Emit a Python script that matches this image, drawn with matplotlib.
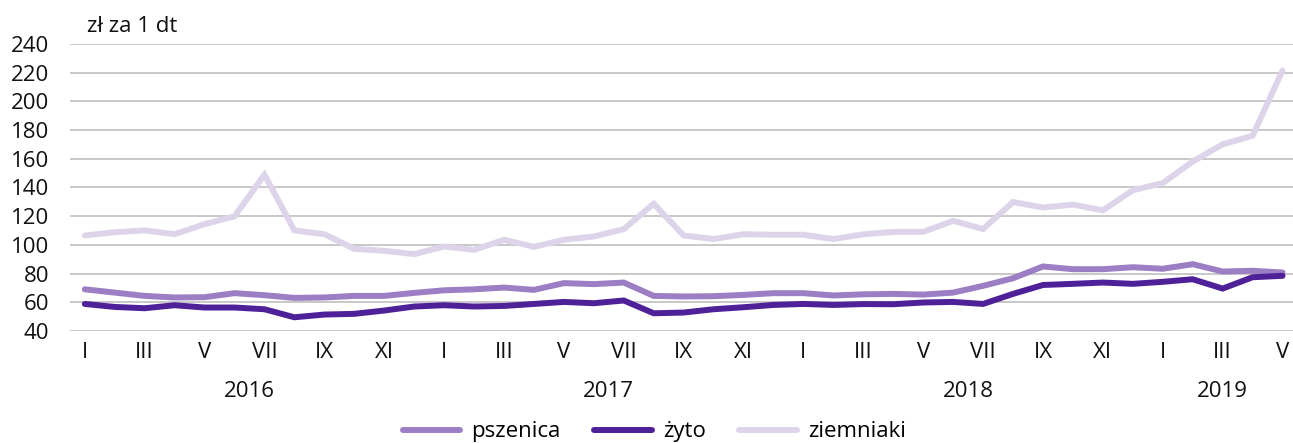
import matplotlib
matplotlib.use("Agg")
import matplotlib.pyplot as plt
import matplotlib.transforms as mtransforms

plt.rcParams['font.family'] = ['Open Sans', 'DejaVu Sans']

months = ["I", "II", "III", "IV", "V", "VI", "VII", "VIII", "IX", "X", "XI", "XII"] * 3 + ["I", "II", "III", "IV", "V"]
years = ["2016", "2017", "2018", "2019"]
year_centers = [5.5, 17.5, 29.5, 38]

pszenica = [69, 66.7, 64.4, 63.3, 63.5, 66.3, 64.9, 63, 63.3, 64.4, 64.4, 66.5,
            68.3, 69, 70.2, 68.6, 73.3, 72.6, 73.7, 64.4, 64, 64.2, 65.1, 66.3,
            66.3, 64.7, 65.5, 65.8, 65.3, 66.7, 71.4, 76.7, 84.9, 83, 83, 84.4,
            83.3, 86.5, 81.4, 81.9, 80.7]
zyto = [58.8, 56.7, 55.8, 57.9, 56.3, 56.3, 55.1, 49.5, 51.4, 51.9, 54.2, 57,
        57.9, 57, 57.4, 58.8, 60.2, 59.3, 61.2, 52.3, 52.8, 55.1, 56.5, 58.1,
        58.8, 58.1, 58.7, 58.6, 59.8, 60.2, 58.8, 65.8, 72, 72.8, 73.7, 72.8,
        74.2, 76, 69.5, 77.4, 78.4]
ziemniaki = [106.5, 108.8, 110, 107.4, 114.4, 119.8, 148.8, 110, 107.4, 97.2, 95.8, 93.5,
             98.8, 96.5, 103.5, 98.6, 103.5, 105.8, 110.9, 128.6, 106.5, 104, 107.4, 107,
             107, 104, 107.3, 109, 109, 116.7, 111, 129.8, 126, 128, 124, 138,
             143, 158, 170, 176, 221.4]

labels = ["pszenica", "żyto", "ziemniaki"]
colors = ["#9b7ec3", "#4f2199", "#ddd4ea"]

fig = plt.figure(figsize=(12.93, 4.43), dpi=100)
ax = fig.add_axes([0.054, 0.253, 0.946, 0.648])

x = list(range(len(months)))
for series, lab, col in zip([pszenica, zyto, ziemniaki], labels, colors):
    ax.plot(x, series, color=col, lw=4.3, label=lab, solid_capstyle="round",
            solid_joinstyle="miter", clip_on=False)

ax.set_ylim(40, 240)
ax.set_yticks(range(40, 241, 20))
ax.set_xlim(-0.5, 40.35)
ax.set_xticks(x[::2])
ax.set_xticklabels(months[::2])
ax.yaxis.grid(True, color="#bfbfbf", lw=1.2)
ax.set_axisbelow(True)
for s in ax.spines.values():
    s.set_visible(False)
ax.tick_params(axis="both", length=0, labelsize=16, colors="#111111")
ax.tick_params(axis="y", pad=15)
ax.tick_params(axis="x", pad=8)

trans = mtransforms.blended_transform_factory(ax.transData, ax.transAxes)
for yr, c in zip(years, year_centers):
    ax.text(c, -0.21, yr, transform=trans, ha="center", va="center", fontsize=16, color="#111111")

fig.text(0.067, 0.94, "zł za 1 dt", fontsize=16, ha="left", va="center", color="#111111")

fig.legend(loc="center", bbox_to_anchor=(0.506, 0.025), ncol=3, frameon=False,
           fontsize=16, handlelength=2.6, handletextpad=0.5, columnspacing=1.5)

fig.savefig("out.png", dpi=100)
